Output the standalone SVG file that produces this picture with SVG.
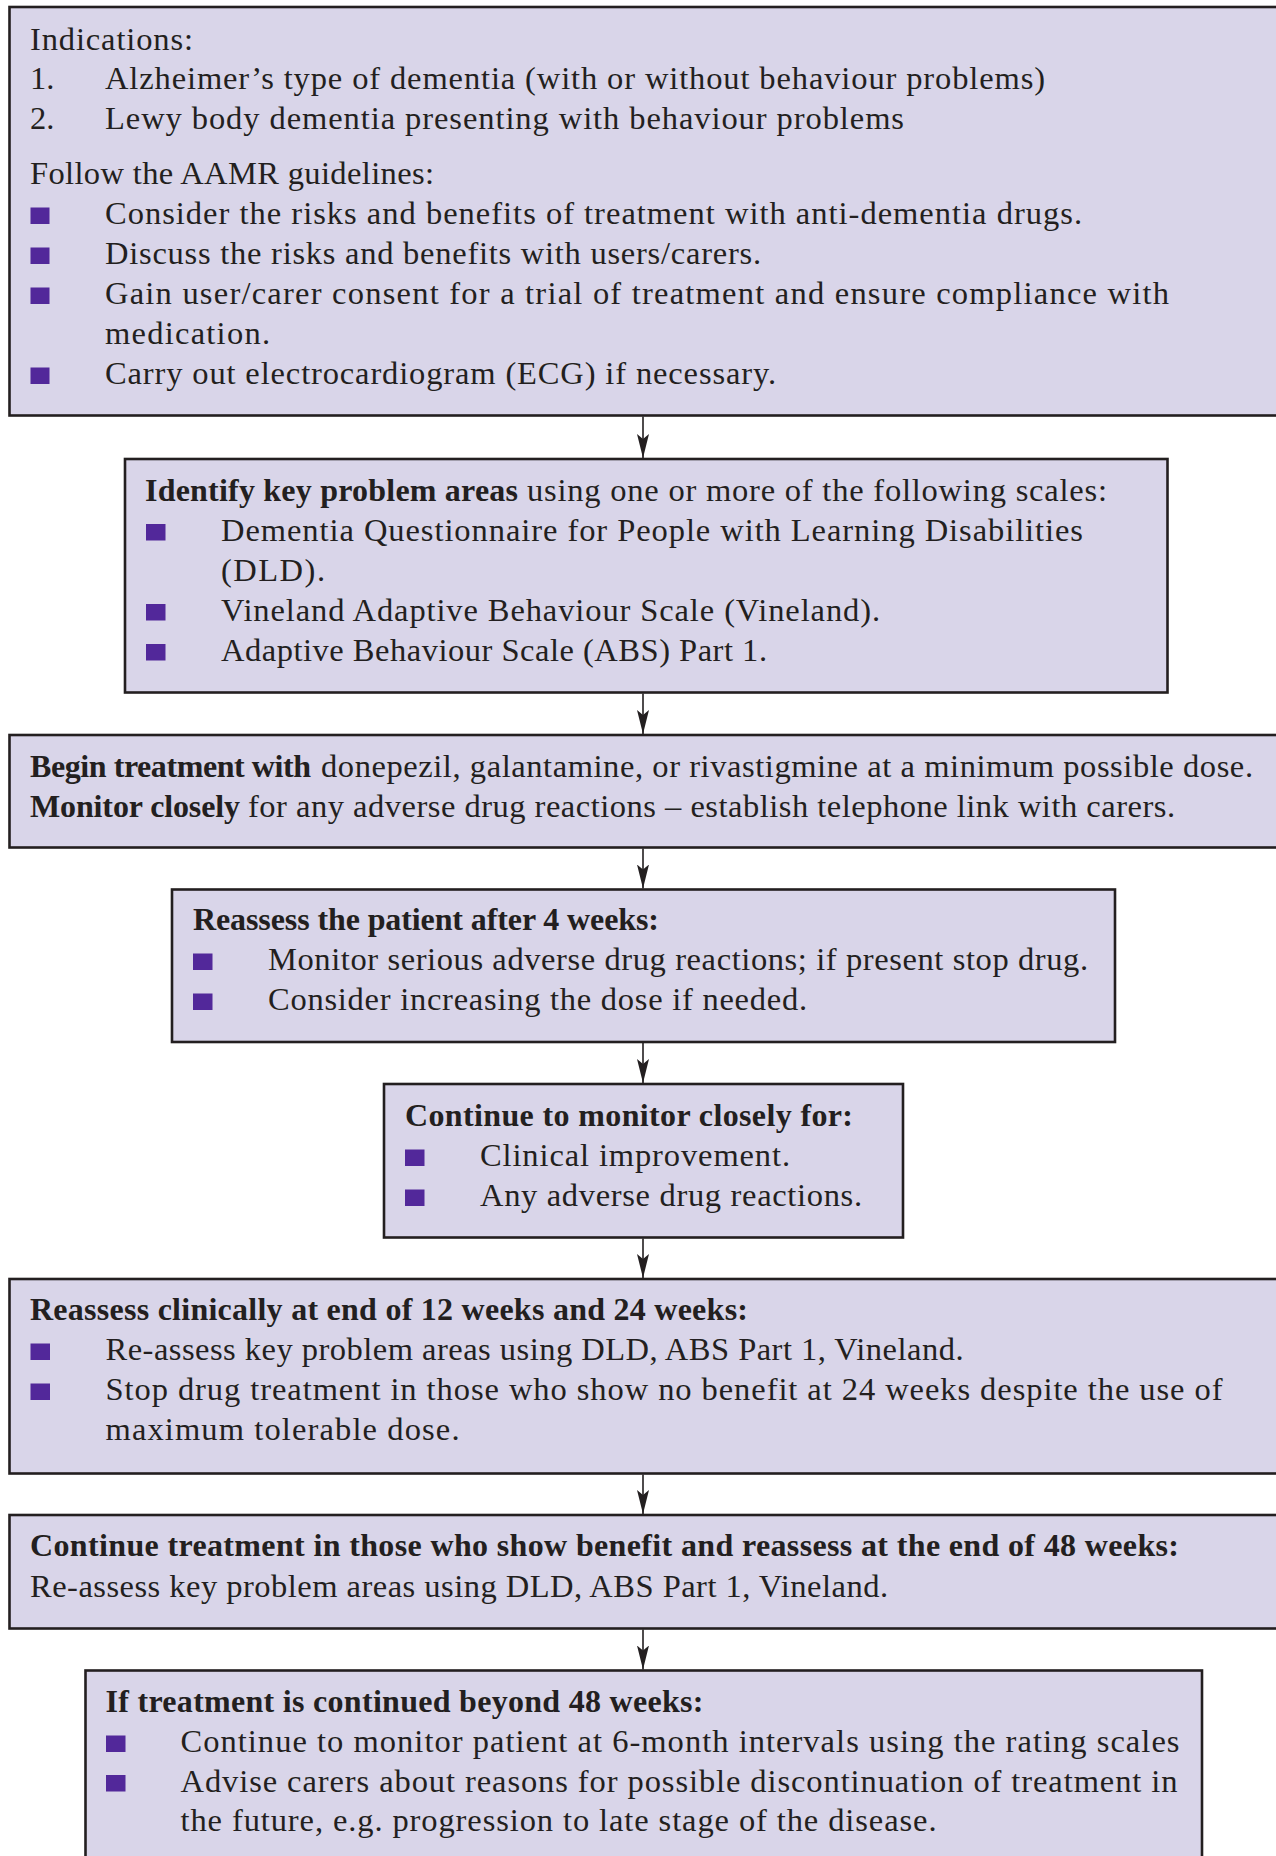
<svg xmlns="http://www.w3.org/2000/svg" width="1276" height="1856" viewBox="0 0 1276 1856">
<defs>
<style>
.box{fill:#d9d5e9;stroke:#231f20;stroke-width:2.6}
.t{font-family:"Liberation Serif","Times New Roman",serif;font-size:32.5px;fill:#231f20}
.b{font-weight:bold;font-size:32px}
.bul{fill:#52289a}
.conn{stroke:#231f20;stroke-width:1.6;fill:none}
</style>
<marker id="ah" markerUnits="userSpaceOnUse" viewBox="0 0 24 12" refX="24" refY="6" markerWidth="24" markerHeight="12" orient="auto">
<path d="M0,0 L24,6 L0,12 L5,6 Z" fill="#231f20"/>
</marker>
</defs>
<rect width="1276" height="1856" fill="#ffffff"/>

<g id="connectors">
<line class="conn" x1="643" y1="416.5" x2="643" y2="458" marker-end="url(#ah)"/>
<line class="conn" x1="643" y1="693.5" x2="643" y2="734" marker-end="url(#ah)"/>
<line class="conn" x1="643" y1="848.5" x2="643" y2="888.5" marker-end="url(#ah)"/>
<line class="conn" x1="643" y1="1043" x2="643" y2="1083" marker-end="url(#ah)"/>
<line class="conn" x1="643" y1="1238.5" x2="643" y2="1278" marker-end="url(#ah)"/>
<line class="conn" x1="643" y1="1474.5" x2="643" y2="1514" marker-end="url(#ah)"/>
<line class="conn" x1="643" y1="1629.5" x2="643" y2="1669.5" marker-end="url(#ah)"/>
</g>

<g id="node1">
<rect class="box" x="9.5" y="7" width="1290" height="408.5"/>
<text class="t" x="30" y="50" textLength="163" lengthAdjust="spacing">Indications:</text>
<text class="t" x="30" y="89">1.</text>
<text class="t" x="105" y="89" textLength="940" lengthAdjust="spacing">Alzheimer’s type of dementia (with or without behaviour problems)</text>
<text class="t" x="30" y="129">2.</text>
<text class="t" x="105" y="129" textLength="799" lengthAdjust="spacing">Lewy body dementia presenting with behaviour problems</text>
<text class="t" x="30" y="184" textLength="404" lengthAdjust="spacing">Follow the AAMR guidelines:</text>
<rect class="bul" x="30.5" y="207.5" width="19" height="16.5"/>
<text class="t" x="105" y="224" textLength="977" lengthAdjust="spacing">Consider the risks and benefits of treatment with anti-dementia drugs.</text>
<rect class="bul" x="30.5" y="247.5" width="19" height="16.5"/>
<text class="t" x="105" y="264" textLength="656" lengthAdjust="spacing">Discuss the risks and benefits with users/carers.</text>
<rect class="bul" x="30.5" y="287.5" width="19" height="16.5"/>
<text class="t" x="105" y="304" textLength="1064" lengthAdjust="spacing">Gain user/carer consent for a trial of treatment and ensure compliance with</text>
<text class="t" x="105" y="344" textLength="165" lengthAdjust="spacing">medication.</text>
<rect class="bul" x="30.5" y="367.5" width="19" height="16.5"/>
<text class="t" x="105" y="384" textLength="671" lengthAdjust="spacing">Carry out electrocardiogram (ECG) if necessary.</text>
</g>

<g id="node2">
<rect class="box" x="125" y="459" width="1042.5" height="233.5"/>
<text class="t b" x="145" y="500.5" textLength="373" lengthAdjust="spacing">Identify key problem areas</text>
<text class="t" x="527" y="500.5" textLength="580" lengthAdjust="spacing">using one or more of the following scales:</text>
<rect class="bul" x="146" y="524" width="19.5" height="16.5"/>
<text class="t" x="221" y="540.5" textLength="862" lengthAdjust="spacing">Dementia Questionnaire for People with Learning Disabilities</text>
<text class="t" x="221" y="580.5" textLength="104" lengthAdjust="spacing">(DLD).</text>
<rect class="bul" x="146" y="604" width="19.5" height="16.5"/>
<text class="t" x="221" y="620.5" textLength="659" lengthAdjust="spacing">Vineland Adaptive Behaviour Scale (Vineland).</text>
<rect class="bul" x="146" y="644" width="19.5" height="16.5"/>
<text class="t" x="221" y="660.5" textLength="546" lengthAdjust="spacing">Adaptive Behaviour Scale (ABS) Part 1.</text>
</g>

<g id="node3">
<rect class="box" x="9.5" y="735" width="1290" height="112.5"/>
<text class="t b" x="30" y="776.5" textLength="281" lengthAdjust="spacing">Begin treatment with</text>
<text class="t" x="321" y="776.5" textLength="932" lengthAdjust="spacing">donepezil, galantamine, or rivastigmine at a minimum possible dose.</text>
<text class="t b" x="30" y="817" textLength="210" lengthAdjust="spacing">Monitor closely</text>
<text class="t" x="248" y="817" textLength="927" lengthAdjust="spacing">for any adverse drug reactions – establish telephone link with carers.</text>
</g>

<g id="node4">
<rect class="box" x="172" y="889.5" width="943" height="152.5"/>
<text class="t b" x="193" y="930" textLength="466" lengthAdjust="spacing">Reassess the patient after 4 weeks:</text>
<rect class="bul" x="193" y="953.5" width="19.5" height="16.5"/>
<text class="t" x="268" y="970" textLength="820" lengthAdjust="spacing">Monitor serious adverse drug reactions; if present stop drug.</text>
<rect class="bul" x="193" y="993.5" width="19.5" height="16.5"/>
<text class="t" x="268" y="1010" textLength="539" lengthAdjust="spacing">Consider increasing the dose if needed.</text>
</g>

<g id="node5">
<rect class="box" x="384" y="1084" width="519" height="153.5"/>
<text class="t b" x="405" y="1126" textLength="448" lengthAdjust="spacing">Continue to monitor closely for:</text>
<rect class="bul" x="405" y="1149.5" width="19.5" height="16.5"/>
<text class="t" x="480" y="1166" textLength="310" lengthAdjust="spacing">Clinical improvement.</text>
<rect class="bul" x="405" y="1189.5" width="19.5" height="16.5"/>
<text class="t" x="480" y="1206" textLength="382" lengthAdjust="spacing">Any adverse drug reactions.</text>
</g>

<g id="node6">
<rect class="box" x="9.5" y="1279" width="1290" height="194.5"/>
<text class="t b" x="30" y="1320" textLength="718" lengthAdjust="spacing">Reassess clinically at end of 12 weeks and 24 weeks:</text>
<rect class="bul" x="30.5" y="1343.5" width="19.5" height="16.5"/>
<text class="t" x="105.5" y="1360" textLength="858" lengthAdjust="spacing">Re-assess key problem areas using DLD, ABS Part 1, Vineland.</text>
<rect class="bul" x="30.5" y="1383.5" width="19.5" height="16.5"/>
<text class="t" x="105.5" y="1400" textLength="1117" lengthAdjust="spacing">Stop drug treatment in those who show no benefit at 24 weeks despite the use of</text>
<text class="t" x="105.5" y="1440" textLength="354" lengthAdjust="spacing">maximum tolerable dose.</text>
</g>

<g id="node7">
<rect class="box" x="9.5" y="1515" width="1290" height="113.5"/>
<text class="t b" x="30" y="1556" textLength="1149" lengthAdjust="spacing">Continue treatment in those who show benefit and reassess at the end of 48 weeks:</text>
<text class="t" x="30" y="1596.5" textLength="858" lengthAdjust="spacing">Re-assess key problem areas using DLD, ABS Part 1, Vineland.</text>
</g>

<g id="node8">
<rect class="box" x="85.5" y="1670.5" width="1116.5" height="200"/>
<text class="t b" x="105.5" y="1712" textLength="598" lengthAdjust="spacing">If treatment is continued beyond 48 weeks:</text>
<rect class="bul" x="106" y="1735.5" width="19.5" height="16.5"/>
<text class="t" x="180.5" y="1752" textLength="999" lengthAdjust="spacing">Continue to monitor patient at 6-month intervals using the rating scales</text>
<rect class="bul" x="106" y="1775" width="19.5" height="16.5"/>
<text class="t" x="180.5" y="1791.5" textLength="997" lengthAdjust="spacing">Advise carers about reasons for possible discontinuation of treatment in</text>
<text class="t" x="180.5" y="1831" textLength="756" lengthAdjust="spacing">the future, e.g. progression to late stage of the disease.</text>
</g>
</svg>
